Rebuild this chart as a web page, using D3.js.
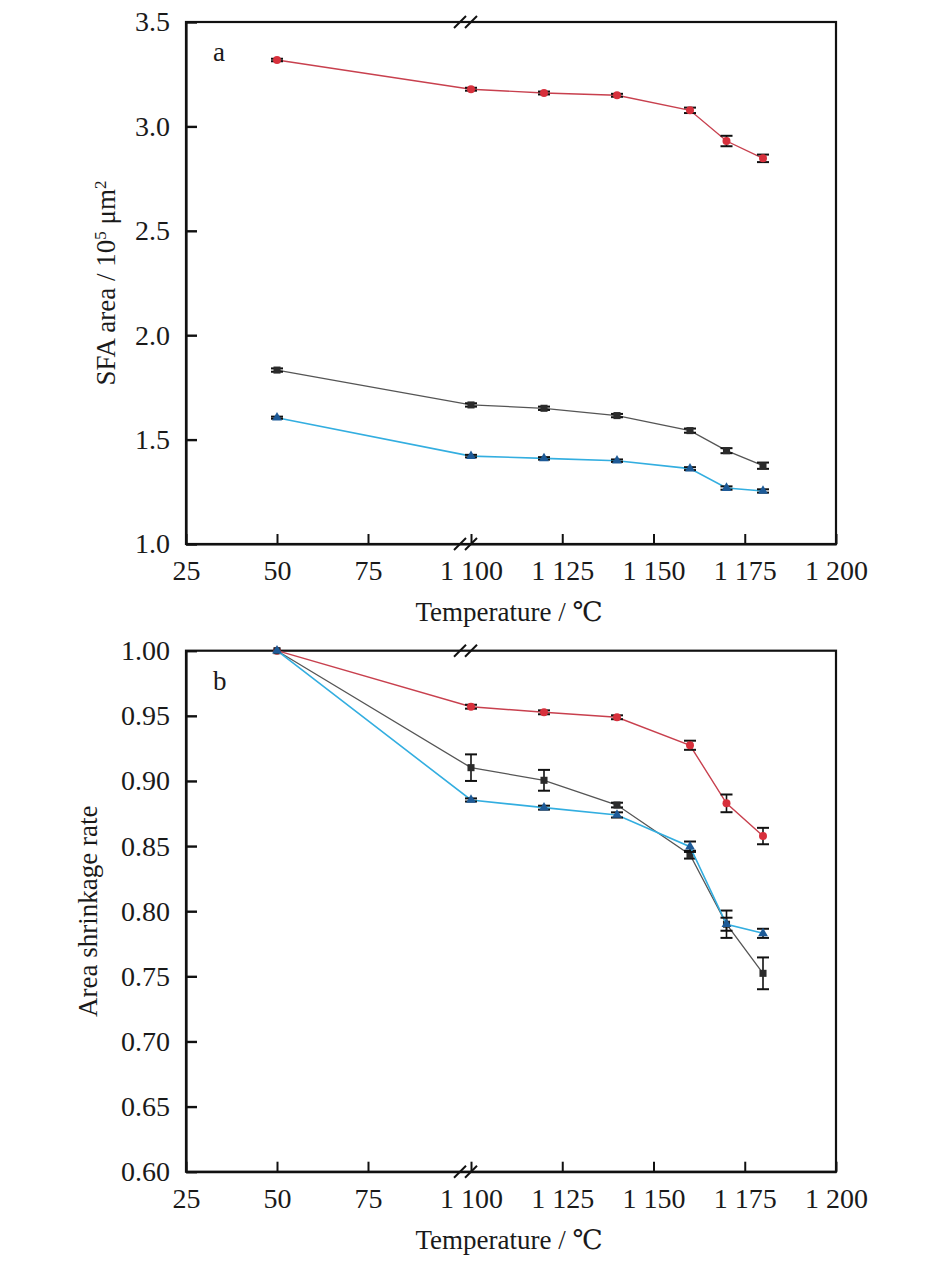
<!DOCTYPE html>
<html>
<head>
<meta charset="utf-8">
<script src="https://cdn.jsdelivr.net/npm/d3@7"></script>
<style>
  html, body { margin: 0; padding: 0; background: #ffffff; }
  svg { display: block; }
  text { font-family: "Liberation Serif", "DejaVu Serif", serif; fill: #1a1a1a; }
</style>
</head>
<body>
<svg id="chart" width="945" height="1264"></svg>
<script>
// ---------- data ----------
const temps = [50, 1100, 1120, 1140, 1160, 1170, 1180];
const xTicks = [25, 50, 75, 1100, 1125, 1150, 1175, 1200];

// panel a: SFA area (10^5 μm^2)
const redArea      = [3.318, 3.178, 3.160, 3.149, 3.077, 2.930, 2.847];
const redAreaErr   = [0.006, 0.007, 0.007, 0.007, 0.013, 0.025, 0.018];
const blackArea    = [1.833, 1.666, 1.650, 1.615, 1.543, 1.447, 1.375];
const blackAreaErr = [0.008, 0.008, 0.008, 0.008, 0.010, 0.012, 0.015];
const blueArea     = [1.605, 1.421, 1.410, 1.399, 1.361, 1.268, 1.254];
const blueAreaErr  = [0.005, 0.006, 0.006, 0.006, 0.007, 0.008, 0.008];
const areaTicks    = [1.0, 1.5, 2.0, 2.5, 3.0, 3.5];

// panel b: area shrinkage rate
const redRate      = [1.000, 0.9570, 0.9527, 0.9489, 0.9274, 0.8828, 0.8577];
const redRateErr   = [0, 0.0015, 0.0015, 0.0015, 0.0035, 0.0068, 0.0063];
const blackRate    = [1.000, 0.9102, 0.9005, 0.8815, 0.8434, 0.7900, 0.7523];
const blackRateErr = [0, 0.0102, 0.0080, 0.0018, 0.0030, 0.0105, 0.0122];
const blueRate     = [1.000, 0.8854, 0.8795, 0.8739, 0.8495, 0.7900, 0.7830];
const blueRateErr  = [0, 0.0012, 0.0015, 0.0020, 0.0040, 0.0050, 0.0035];
const rateTicks    = [0.60, 0.65, 0.70, 0.75, 0.80, 0.85, 0.90, 0.95, 1.00];

// ---------- styles ----------
const styles = {
  red:   { line: "#c8404e", fill: "#d7303c", shape: "circle",   lw: 1.4 },
  black: { line: "#555555", fill: "#2b2b2b", shape: "square",   lw: 1.3 },
  blue:  { line: "#33aee0", fill: "#1d5a97", shape: "triangle", lw: 1.6 }
};

const svg = d3.select("#chart");
const X0 = 186, X1 = 836;
const x = d3.scaleLinear().domain([25, 100, 1100, 1200]).range([X0, 459, 471, X1]);
const fmtX = d => d >= 1000 ? String(d).replace(/^(\d)(\d{3})$/, "$1 $2") : String(d);

function panel(cfg) {
  const { top, bottom, yDomain, yTicks, yFmt, series, label, yTitle, yTitleX } = cfg;
  const y = d3.scaleLinear().domain(yDomain).range([bottom, top]);
  const g = svg.append("g");

  // frame
  g.append("rect").attr("x", X0).attr("y", top).attr("width", X1 - X0).attr("height", bottom - top)
    .attr("fill", "none").attr("stroke", "#111").attr("stroke-width", 2.2);

  // x axis
  const xa = g.append("g").attr("transform", `translate(0,${bottom})`)
    .call(d3.axisBottom(x).tickValues(xTicks).tickSizeInner(-10).tickSizeOuter(0).tickPadding(16).tickFormat(fmtX));
  xa.select(".domain").attr("stroke", "#111").attr("stroke-width", 2.2);
  xa.selectAll(".tick line").attr("stroke", "#111").attr("stroke-width", 2);
  xa.selectAll("text").attr("font-size", 28).attr("font-family", "Liberation Serif").attr("fill", "#1a1a1a");

  // y axis
  const ya = g.append("g").attr("transform", `translate(${X0},0)`)
    .call(d3.axisLeft(y).tickValues(yTicks).tickSizeInner(-11).tickSizeOuter(0).tickPadding(16).tickFormat(d3.format(yFmt)));
  ya.select(".domain").attr("stroke", "#111").attr("stroke-width", 2.2);
  ya.selectAll(".tick line").attr("stroke", "#111").attr("stroke-width", 2.4);
  ya.selectAll("text").attr("font-size", 28).attr("font-family", "Liberation Serif").attr("fill", "#1a1a1a");

  // axis break marks
  [top, bottom].forEach(yy => {
    [460, 471].forEach(cx => {
      g.append("line").attr("x1", cx - 6).attr("y1", yy + 6).attr("x2", cx + 6).attr("y2", yy - 6)
        .attr("stroke", "#111").attr("stroke-width", 2);
    });
  });

  // series
  series.forEach(s => {
    const st = styles[s.key];
    const pts = temps.map((t, i) => ({ t, v: s.values[i], e: s.err[i] }));
    g.append("path").datum(pts)
      .attr("fill", "none").attr("stroke", st.line).attr("stroke-width", st.lw)
      .attr("d", d3.line().x(d => x(d.t)).y(d => y(d.v)));
    // error bars
    const eb = g.append("g").attr("stroke", "#111").attr("stroke-width", 1.6);
    pts.filter(d => d.e > 0).forEach(d => {
      const cx = x(d.t), y1 = y(d.v + d.e), y2 = y(d.v - d.e);
      eb.append("line").attr("x1", cx).attr("x2", cx).attr("y1", y1).attr("y2", y2);
      eb.append("line").attr("x1", cx - 6).attr("x2", cx + 6).attr("y1", y1).attr("y2", y1).attr("stroke-width", 2);
      eb.append("line").attr("x1", cx - 6).attr("x2", cx + 6).attr("y1", y2).attr("y2", y2).attr("stroke-width", 2);
    });
    // markers
    const sym = st.shape === "circle" ? d3.symbolCircle : st.shape === "square" ? d3.symbolSquare : d3.symbolTriangle;
    const size = st.shape === "circle" ? 50 : st.shape === "square" ? 50 : 42;
    g.append("g").selectAll("path").data(pts).join("path")
      .attr("transform", d => `translate(${x(d.t)},${y(d.v)})`)
      .attr("d", d3.symbol().type(sym).size(size))
      .attr("fill", st.fill);
  });

  // panel label
  g.append("text").attr("x", 213).attr("y", top + 39).attr("font-size", 27).text(label);

  // y title
  const yt = g.append("text").attr("transform", `translate(${yTitleX},${(top + bottom) / 2}) rotate(-90)`)
    .attr("text-anchor", "middle").attr("font-size", 27);
  yTitle(yt);

  // x title
  g.append("text").attr("x", 509).attr("y", bottom + 77).attr("text-anchor", "middle")
    .attr("font-size", 27).text("Temperature / \u2103");
}

panel({
  top: 22, bottom: 544, yDomain: [1.0, 3.5], yTicks: areaTicks, yFmt: ".1f",
  label: "a", yTitleX: 115,
  series: [
    { key: "red", values: redArea, err: redAreaErr },
    { key: "black", values: blackArea, err: blackAreaErr },
    { key: "blue", values: blueArea, err: blueAreaErr }
  ],
  yTitle: t => {
    t.append("tspan").text("SFA area / 10");
    t.append("tspan").attr("baseline-shift", "super").attr("font-size", 17).text("5");
    t.append("tspan").text(" \u03bcm");
    t.append("tspan").attr("baseline-shift", "super").attr("font-size", 17).text("2");
  }
});

panel({
  top: 650.7, bottom: 1171.7, yDomain: [0.60, 1.00], yTicks: rateTicks, yFmt: ".2f",
  label: "b", yTitleX: 97,
  series: [
    { key: "red", values: redRate, err: redRateErr },
    { key: "black", values: blackRate, err: blackRateErr },
    { key: "blue", values: blueRate, err: blueRateErr }
  ],
  yTitle: t => t.text("Area shrinkage rate")
});
</script>
</body>
</html>
